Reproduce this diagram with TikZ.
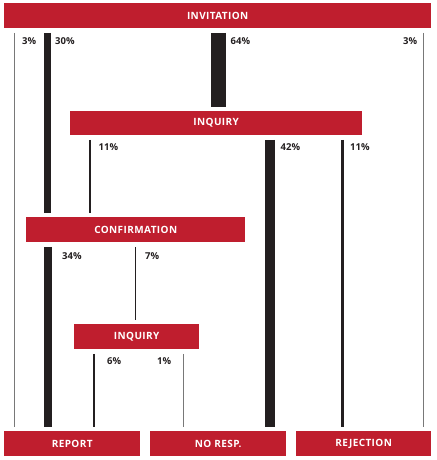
\documentclass[tikz,border=0pt]{standalone}
\usepackage{fontspec}
\setmainfont{Open Sans}
\newfontfamily\barfont[LetterSpace=4]{Open Sans}
\definecolor{barred}{RGB}{191,30,46}
\definecolor{flowdark}{RGB}{35,31,32}
\definecolor{flowgray}{RGB}{120,120,120}
\begin{document}
\begin{tikzpicture}[x=1pt,y=-1pt,
  bar/.style={fill=barred,draw=none,inner sep=0pt,text=white,
    font=\barfont\bfseries\fontsize{10}{12}\selectfont,anchor=north west},
  pct/.style={font=\bfseries\fontsize{9.5}{11}\selectfont,text=flowdark,inner sep=0pt,anchor=west},
  flow/.style={draw=flowdark,line width=#1,shorten <=4.5pt,shorten >=4.5pt},
  thinflow/.style={draw=flowgray,line width=1pt,shorten <=4.5pt,shorten >=4.5pt}]
\useasboundingbox (0,0) rectangle (436,460);
% bars
\node[bar,minimum width=427pt,minimum height=25pt] (inv) at (4,3) {INVITATION};
\node[bar,minimum width=292pt,minimum height=24pt] (inq) at (70,111) {INQUIRY};
\node[bar,minimum width=219pt,minimum height=25pt] (conf) at (26,217) {CONFIRMATION};
\node[bar,minimum width=125pt,minimum height=25pt] (inq2) at (74,324) {INQUIRY};
\node[bar,minimum width=136pt,minimum height=25pt] (rep) at (4,431) {REPORT};
\node[bar,minimum width=136pt,minimum height=25pt] (nor) at (150,431) {NO RESP.};
\node[bar,minimum width=135pt,minimum height=25pt] (rej) at (296,431) {REJECTION};
% flows from invitation
\draw[thinflow] (inv.south -| 14,0) -- (rep.north -| 14,0);
\draw[flow=7.5pt] (inv.south -| 47.5,0) -- (conf.north -| 47.5,0);
\draw[flow=15pt] (inv.south -| 218,0) -- (inq.north -| 218,0);
\draw[thinflow] (inv.south -| 423,0) -- (rej.north -| 423,0);
% flows from inquiry
\draw[flow=2pt] (inq.south -| 90.3,0) -- (conf.north -| 90.3,0);
\draw[flow=10pt] (inq.south -| 270,0) -- (nor.north -| 270,0);
\draw[flow=2.6pt] (inq.south -| 342.3,0) -- (rej.north -| 342.3,0);
% flows from confirmation
\draw[flow=8pt] (conf.south -| 47.5,0) -- (rep.north -| 47.5,0);
\draw[flow=1.8pt] (conf.south -| 135.5,0) -- (inq2.north -| 135.5,0);
% flows from second inquiry
\draw[flow=1.8pt] (inq2.south -| 94.2,0) -- (rep.north -| 94.2,0);
\draw[thinflow] (inq2.south -| 183.8,0) -- (nor.north -| 183.8,0);
% labels
\node[pct] (l1) at (22,41) {3\%};
\node[pct] (l2) at (55,41) {30\%};
\node[pct] (l3) at (230.5,41) {64\%};
\node[pct] (l4) at (403,41) {3\%};
\node[pct] (l5) at (98.5,147) {11\%};
\node[pct] (l6) at (280.5,147) {42\%};
\node[pct] (l7) at (350,147) {11\%};
\node[pct] (l8) at (62,256) {34\%};
\node[pct] (l9) at (145,256) {7\%};
\node[pct] (l10) at (107,361) {6\%};
\node[pct] (l11) at (157,361) {1\%};
\end{tikzpicture}
\end{document}
